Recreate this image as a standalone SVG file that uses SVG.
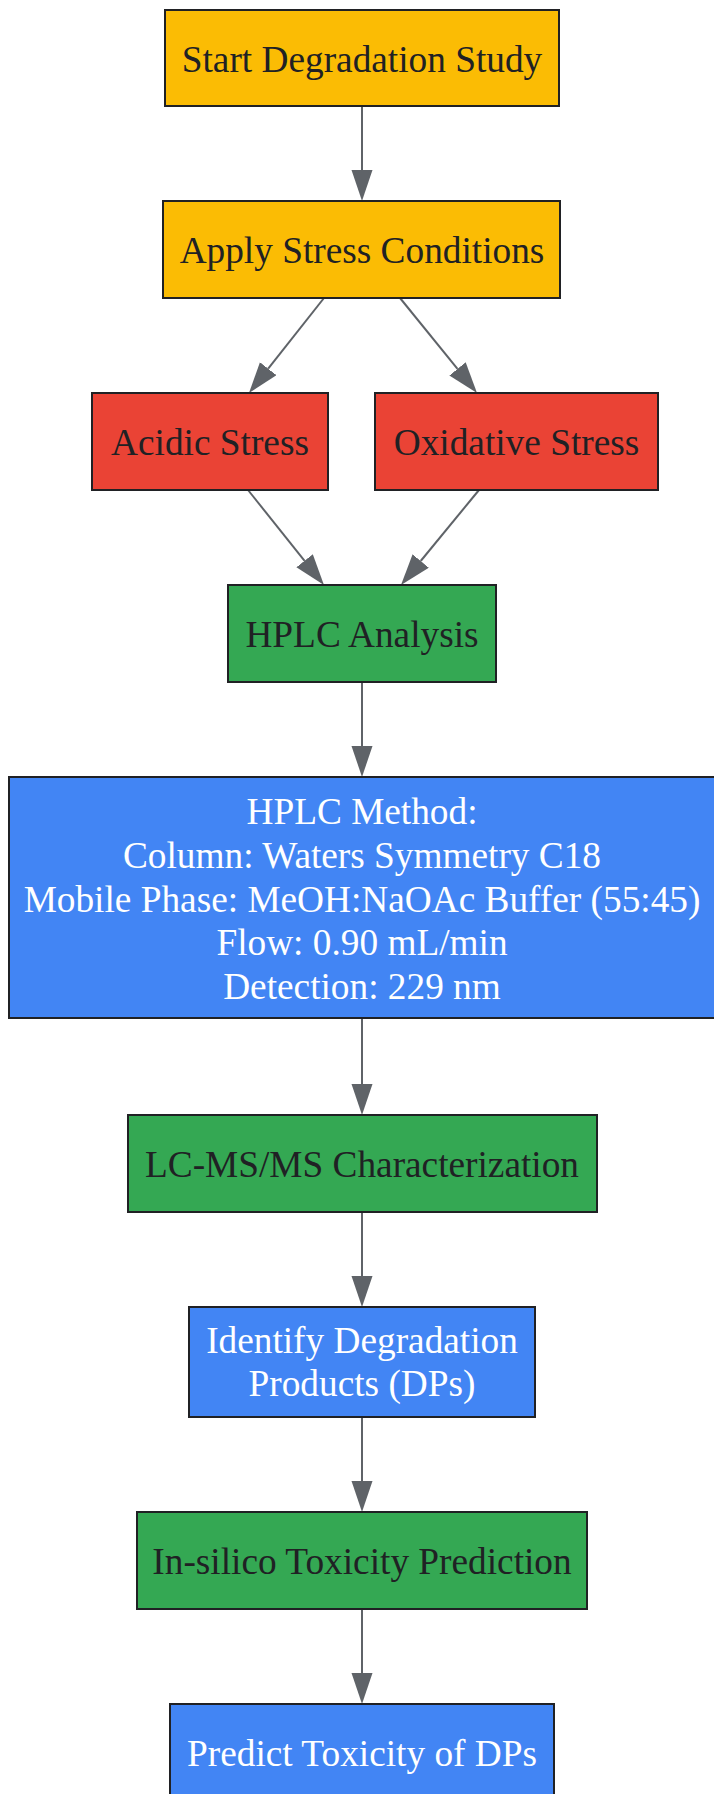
<svg xmlns="http://www.w3.org/2000/svg" width="714" height="1794" viewBox="0 0 714 1794">
<style>
.box{stroke:#202124;stroke-width:2}
.y{fill:#FBBC04}.r{fill:#EA4335}.g{fill:#34A853}.b{fill:#4285F4}
text{font-family:"Liberation Serif","Times New Roman",serif;font-size:37.3px;text-anchor:middle}
.dk{fill:#202124}.wt{fill:#ffffff}
.edge{stroke:#5f6368;stroke-width:2;fill:none}
</style>
<defs>
<marker id="ah" markerUnits="userSpaceOnUse" markerWidth="32" markerHeight="22" refX="0" refY="10.5" orient="auto">
<path d="M0,0 L31,10.5 L0,21 Z" fill="#5f6368"/>
</marker>
</defs>
<rect width="714" height="1794" fill="#ffffff"/>
<g id="connectors">
<line class="edge" x1="362" y1="106" x2="362" y2="170" marker-end="url(#ah)"/>
<line class="edge" x1="324" y1="298" x2="268.2" y2="368.7" marker-end="url(#ah)"/>
<line class="edge" x1="400" y1="298" x2="457.5" y2="368.9" marker-end="url(#ah)"/>
<line class="edge" x1="248" y1="490" x2="304.6" y2="560.8" marker-end="url(#ah)"/>
<line class="edge" x1="479" y1="490" x2="420.7" y2="561" marker-end="url(#ah)"/>
<line class="edge" x1="362" y1="682" x2="362" y2="746" marker-end="url(#ah)"/>
<line class="edge" x1="362" y1="1018" x2="362" y2="1084" marker-end="url(#ah)"/>
<line class="edge" x1="362" y1="1212" x2="362" y2="1276" marker-end="url(#ah)"/>
<line class="edge" x1="362" y1="1417" x2="362" y2="1481" marker-end="url(#ah)"/>
<line class="edge" x1="362" y1="1609" x2="362" y2="1673" marker-end="url(#ah)"/>
</g>
<g id="start">
<rect class="box y" x="165" y="10" width="394" height="96"/>
<text class="dk" x="362" y="72">Start Degradation Study</text>
</g>
<g id="apply">
<rect class="box y" x="163" y="201" width="397" height="97"/>
<text class="dk" x="362" y="263">Apply Stress Conditions</text>
</g>
<g id="acidic">
<rect class="box r" x="92" y="393" width="236" height="97"/>
<text class="dk" x="210" y="455">Acidic Stress</text>
</g>
<g id="oxidative">
<rect class="box r" x="375" y="393" width="283" height="97"/>
<text class="dk" x="516.5" y="455">Oxidative Stress</text>
</g>
<g id="hplc_analysis">
<rect class="box g" x="228" y="585" width="268" height="97"/>
<text class="dk" x="362" y="647">HPLC Analysis</text>
</g>
<g id="hplc_method">
<rect class="box b" x="9" y="777" width="706" height="241"/>
<text class="wt" x="362" y="824">HPLC Method:</text>
<text class="wt" x="362" y="868">Column: Waters Symmetry C18</text>
<text class="wt" x="362" y="912">Mobile Phase: MeOH:NaOAc Buffer (55:45)</text>
<text class="wt" x="362" y="955">Flow: 0.90 mL/min</text>
<text class="wt" x="362" y="999">Detection: 229 nm</text>
</g>
<g id="lcms">
<rect class="box g" x="128" y="1115" width="469" height="97"/>
<text class="dk" x="362" y="1177">LC-MS/MS Characterization</text>
</g>
<g id="identify">
<rect class="box b" x="189" y="1307" width="346" height="110"/>
<text class="wt" x="362" y="1353">Identify Degradation</text>
<text class="wt" x="362" y="1396">Products (DPs)</text>
</g>
<g id="insilico">
<rect class="box g" x="137" y="1512" width="450" height="97"/>
<text class="dk" x="362" y="1574">In-silico Toxicity Prediction</text>
</g>
<g id="predict">
<rect class="box b" x="170" y="1704" width="384" height="97"/>
<text class="wt" x="362" y="1766">Predict Toxicity of DPs</text>
</g>
</svg>
